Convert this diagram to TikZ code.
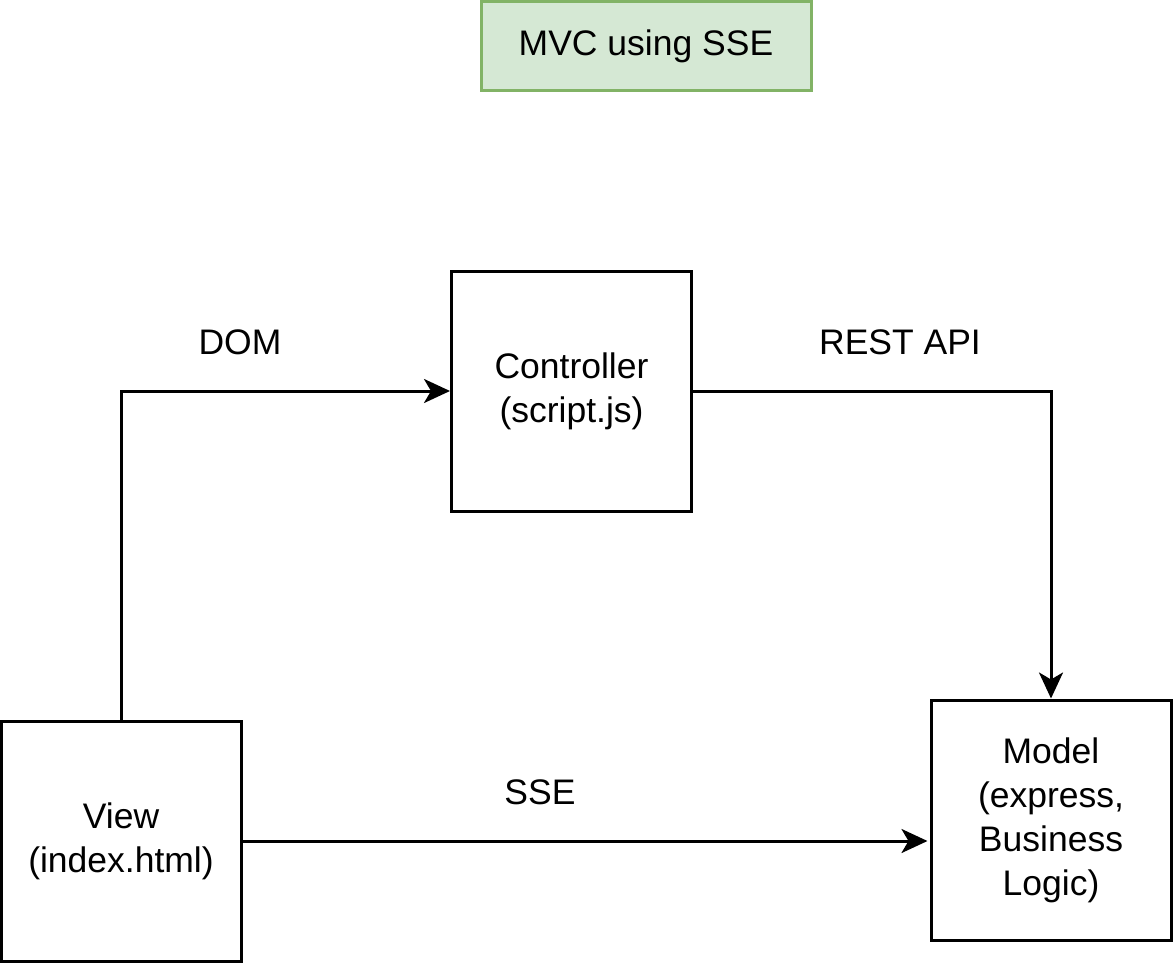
\documentclass[tikz,border=0pt]{standalone}
\usepackage{fontspec}
\setmainfont{Liberation Sans}
\usetikzlibrary{arrows.meta}
\definecolor{gfill}{HTML}{D5E8D4}
\definecolor{gdraw}{HTML}{82B366}
\begin{document}
\begin{tikzpicture}[x=1pt,y=-1pt,
  box/.style={draw=black,line width=3pt,minimum width=240pt,minimum height=240pt,inner sep=0pt,align=center,font=\fontsize{35.5}{44}\selectfont},
  titlebox/.style={draw=gdraw,fill=gfill,line width=3pt,minimum width=330pt,minimum height=89pt,inner sep=0pt,font=\fontsize{35.5}{44}\selectfont},
  lbl/.style={font=\fontsize{35.5}{44}\selectfont,inner sep=0pt},
  conn/.style={line width=3pt,-{Stealth[length=26pt,width=24pt,inset=7pt]}}]
\useasboundingbox (0,0) rectangle (1173,963);
\node[titlebox] (title) at (646,46.5) {MVC using SSE};
\node[box] (ctrl) at (571.5,391) {Controller\\(script.js)};
\node[box] (view) at (121,841) {View\\(index.html)};
\node[box] (model) at (1051,820) {Model\\(express,\\Business\\Logic)};
\node[lbl] (dom) at (240,342) {DOM};
\node[lbl] (rest) at (900,342) {REST API};
\node[lbl] (sse) at (540,792) {SSE};
\draw[conn] (view.north) |- (ctrl.west);
\draw[conn] (ctrl.east) -| (model.north);
\draw[conn] (view.east) -- ([xshift=-2pt]model.west |- view.east);
\end{tikzpicture}
\end{document}
